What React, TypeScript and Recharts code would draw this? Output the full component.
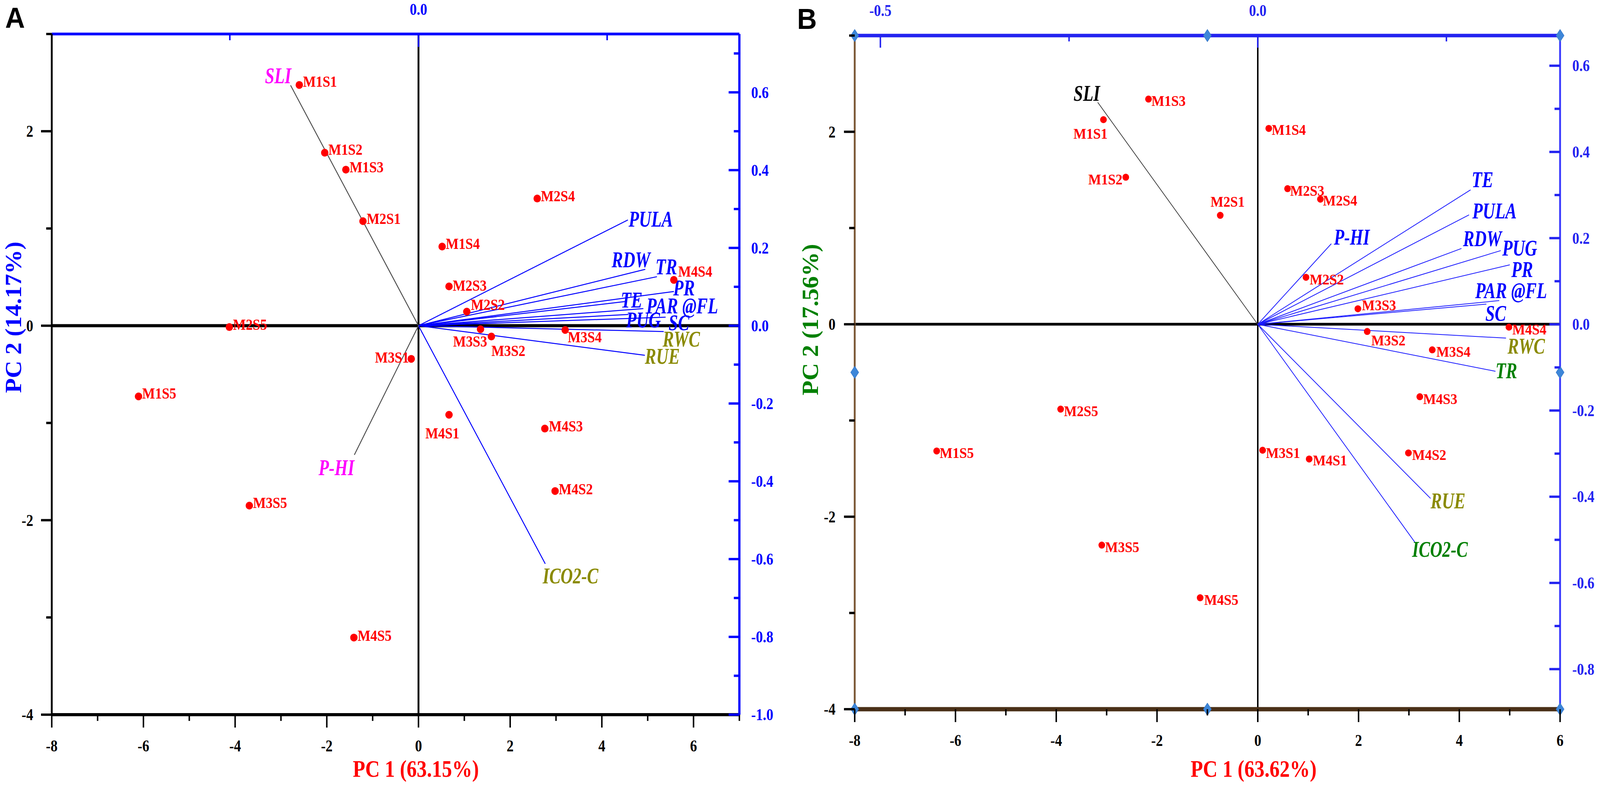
import React from 'react';
import { ScatterChart, Scatter, XAxis, YAxis, ReferenceLine, ReferenceDot } from 'recharts';

const SERIF = "'Liberation Serif', 'Times New Roman', Times, serif";
const SANS = "'Liberation Sans', Arial, Helvetica, sans-serif";

// ---------- DATA ----------
const SAMPLE_NAMES = ['M1S1', 'M1S2', 'M1S3', 'M1S4', 'M1S5', 'M2S1', 'M2S2', 'M2S3', 'M2S4', 'M2S5', 'M3S1', 'M3S2', 'M3S3', 'M3S4', 'M3S5', 'M4S1', 'M4S2', 'M4S3', 'M4S4', 'M4S5'];

// Panel A scores
const A_PC1 = [-2.6, -2.045, -1.584, 0.516, -6.107, -1.211, 1.054, 0.666, 2.59, -4.126, -0.158, 1.59, 1.353, 3.2, -3.69, 0.666, 2.98, 2.756, 5.57, -1.409];
const A_PC2 = [2.476, 1.779, 1.605, 0.814, -0.727, 1.075, 0.145, 0.404, 1.308, -0.014, -0.341, -0.111, -0.036, -0.044, -1.85, -0.916, -1.7, -1.058, 0.471, -3.207];

// Panel B scores
const B_PC1 = [-3.063, -2.62, -2.169, 0.218, -6.373, -0.745, 0.957, 0.591, 1.243, -3.913, 0.096, 2.172, 1.987, 3.463, -3.096, 1.02, 2.99, 3.216, 4.985, -1.144];
const B_PC2 = [2.126, 1.528, 2.34, 2.035, -1.317, 1.132, 0.488, 1.409, 1.3, -0.882, -1.309, -0.075, 0.161, -0.266, -2.295, -1.4, -1.337, -0.753, -0.03, -2.842];

// Panel A loadings
const A_TRAITS = ['SLI', 'PULA', 'RDW', 'TR', 'PR', 'TE', 'PAR @FL', 'PUG', 'SC', 'RWC', 'RUE', 'ICO2-C', 'P-HI'];
const A_LOAD1 = [-0.339, 0.555, 0.601, 0.632, 0.677, 0.547, 0.596, 0.557, 0.655, 0.65, 0.6, 0.336, -0.17];
const A_LOAD2 = [0.618, 0.272, 0.145, 0.126, 0.088, 0.062, 0.044, 0.029, 0.022, -0.015, -0.076, -0.612, -0.332];

// Panel B loadings
const B_TRAITS = ['SLI', 'TE', 'PULA', 'P-HI', 'RDW', 'PUG', 'PR', 'PAR @FL', 'SC', 'RWC', 'TR', 'RUE', 'ICO2-C'];
const B_LOAD1 = [-0.212, 0.282, 0.28, 0.0975, 0.27, 0.322, 0.334, 0.32, 0.303, 0.329, 0.315, 0.229, 0.208];
const B_LOAD2 = [0.515, 0.312, 0.254, 0.187, 0.176, 0.171, 0.138, 0.055, 0.047, -0.032, -0.109, -0.404, -0.505];

// Axis ticks
const A_X_TICKS = [-8, -7, -6, -5, -4, -3, -2, -1, 0, 1, 2, 3, 4, 5, 6, 7];
const A_Y_TICKS = [-4, -3, -2, -1, 0, 1, 2, 3];
const A_TOP_TICKS = [-0.5, 0, 0.5];
const A_RIGHT_TICKS = [-1.0, -0.9, -0.8, -0.7, -0.6, -0.5, -0.4, -0.3, -0.2, -0.1, 0, 0.1, 0.2, 0.3, 0.4, 0.5, 0.6, 0.7];
const B_X_TICKS = [-8, -7, -6, -5, -4, -3, -2, -1, 0, 1, 2, 3, 4, 5, 6];
const B_Y_TICKS = [-4, -3, -2, -1, 0, 1, 2, 3];
const B_TOP_TICKS = [-0.5, -0.25, 0, 0.25];
const B_RIGHT_TICKS = [-0.8, -0.7, -0.6, -0.5, -0.4, -0.3, -0.2, -0.1, 0, 0.1, 0.2, 0.3, 0.4, 0.5, 0.6];

// Axis domains
const A_X_DOMAIN = [-8, 7];
const A_Y_DOMAIN = [-4, 3];
const A_TOP_DOMAIN = [-0.972, 0.8505];
const A_RIGHT_DOMAIN = [-1.0, 0.75];
const B_X_DOMAIN = [-8, 6];
const B_Y_DOMAIN = [-4, 3];
const B_TOP_DOMAIN = [-0.534, 0.4006];
const B_RIGHT_DOMAIN = [-0.893, 0.67];

// ---------- STYLE MAPS ----------
type Pos = [number, number, 'start' | 'middle' | 'end'];
const A_SAMPLE_POS: Record<string, Pos> = {
  M1S1: [10, 5, 'start'], M1S2: [10, 5, 'start'], M1S3: [10, 7, 'start'], M1S4: [10, 6, 'start'], M1S5: [10, 6, 'start'],
  M2S1: [10, 7, 'start'], M2S2: [11, -4, 'start'], M2S3: [10, 11, 'start'], M2S4: [10, 7, 'start'], M2S5: [10, 7, 'start'],
  M3S1: [-6, 10, 'end'], M3S2: [0, 50, 'start'], M3S3: [-28, 44, 'middle'], M3S4: [7, 31, 'start'], M3S5: [10, 6, 'start'],
  M4S1: [-18, 60, 'middle'], M4S2: [10, 8, 'start'], M4S3: [11, 7, 'start'], M4S4: [12, -8, 'start'], M4S5: [10, 8, 'start'],
};
const B_SAMPLE_POS: Record<string, Pos> = {
  M1S1: [-35, 49, 'middle'], M1S2: [-9, 18, 'end'], M1S3: [8, 17, 'start'], M1S4: [8, 16, 'start'], M1S5: [8, 18, 'start'],
  M2S1: [20, -22, 'middle'], M2S2: [10, 18, 'start'], M2S3: [7, 18, 'start'], M2S4: [7, 16, 'start'], M2S5: [9, 18, 'start'],
  M3S1: [9, 20, 'start'], M3S2: [11, 36, 'start'], M3S3: [11, 4, 'start'], M3S4: [11, 18, 'start'], M3S5: [9, 18, 'start'],
  M4S1: [10, 16, 'start'], M4S2: [10, 18, 'start'], M4S3: [9, 19, 'start'], M4S4: [9, 19, 'start'], M4S5: [11, 18, 'start'],
};
const A_VEC_POS: Record<string, Pos> = {
  'SLI': [2, -5, 'end'], 'PULA': [2, 17, 'start'], 'RDW': [-91, -5, 'start'], 'TR': [-4, -6, 'start'],
  'PR': [-2, 10, 'start'], 'TE': [-11, 15, 'start'], 'PAR @FL': [8, 12, 'start'], 'PUG': [-7, 33, 'start'],
  'SC': [8, 33, 'start'], 'RWC': [-3, 38, 'start'], 'RUE': [0, 22, 'start'], 'ICO2-C': [-7, 50, 'start'], 'P-HI': [0, 52, 'end'],
};
const B_VEC_POS: Record<string, Pos> = {
  'SLI': [6, -4, 'end'], 'TE': [3, -7, 'start'], 'PULA': [9, 9, 'start'], 'P-HI': [7, 2, 'start'],
  'RDW': [4, -6, 'start'], 'PUG': [4, 13, 'start'], 'PR': [4, 31, 'start'], 'PAR @FL': [-65, -6, 'start'],
  'SC': [-3, 43, 'start'], 'RWC': [4, 40, 'start'], 'TR': [0, 18, 'start'], 'RUE': [0, 25, 'start'], 'ICO2-C': [-7, 38, 'start'],
};
const OLIVE = '#8a8a00';
const A_VEC_COLOR: Record<string, string> = { 'SLI': '#ff00ff', 'P-HI': '#ff00ff', 'ICO2-C': OLIVE, 'RWC': OLIVE, 'RUE': OLIVE };
const A_VEC_LINE: Record<string, string> = { 'SLI': '#505050', 'P-HI': '#505050' };
const B_VEC_COLOR: Record<string, string> = { 'SLI': '#000000', 'RWC': OLIVE, 'RUE': OLIVE, 'TR': '#008000', 'ICO2-C': '#008000' };
const B_VEC_LINE: Record<string, string> = { 'SLI': '#404040' };

// ---------- TABLES ----------
const samplesA = SAMPLE_NAMES.map((n, i) => ({ name: n, x: A_PC1[i], y: A_PC2[i] }));
const samplesB = SAMPLE_NAMES.map((n, i) => ({ name: n, x: B_PC1[i], y: B_PC2[i] }));
const vecA = A_TRAITS.map((n, i) => ({ name: n, x: A_LOAD1[i], y: A_LOAD2[i] }));
const vecB = B_TRAITS.map((n, i) => ({ name: n, x: B_LOAD1[i], y: B_LOAD2[i] }));

// ---------- HELPERS ----------
function SText(props: any) {
  const { x, y, size, fill, anchor = 'start', sx = 1, italic = false, bold = true, rotate = 0, family = SERIF, children } = props;
  const tf = `translate(${x} ${y})${rotate ? ` rotate(${rotate})` : ''} scale(${sx} 1)`;
  return (
    <text transform={tf} x={0} y={0} fontFamily={family} fontSize={size} fontWeight={bold ? 700 : 400}
      fontStyle={italic ? 'italic' : 'normal'} fill={fill} textAnchor={anchor}>{children}</text>
  );
}

type TickCfg = {
  side: 'left' | 'right' | 'top' | 'bottom';
  color: string; labelColor: string;
  major: (v: number) => boolean; fmt: (v: number) => string;
  majorLen: number; minorLen: number; w: number; gap: number; size: number; sx: number;
};
function makeTick(c: TickCfg) {
  return (p: any) => {
    const v = Number(p.payload.value);
    const mj = c.major(v);
    const len = mj ? c.majorLen : c.minorLen;
    const x = Number(p.x), y = Number(p.y);
    const dy = c.size * 0.34;
    let line: any = null;
    let label: any = null;
    if (c.side === 'left') {
      line = <line x1={x - len} y1={y} x2={x} y2={y} stroke={c.color} strokeWidth={c.w} />;
      label = <SText x={x - c.gap} y={y + dy} size={c.size} fill={c.labelColor} anchor="end" sx={c.sx}>{c.fmt(v)}</SText>;
    } else if (c.side === 'right') {
      line = <line x1={x - len} y1={y} x2={x} y2={y} stroke={c.color} strokeWidth={c.w} />;
      label = <SText x={x + c.gap} y={y + dy} size={c.size} fill={c.labelColor} anchor="start" sx={c.sx}>{c.fmt(v)}</SText>;
    } else if (c.side === 'top') {
      line = <line x1={x} y1={y} x2={x} y2={y + len} stroke={c.color} strokeWidth={c.w} />;
      label = <SText x={x} y={y - c.gap} size={c.size} fill={c.labelColor} anchor="middle" sx={c.sx}>{c.fmt(v)}</SText>;
    } else {
      line = <line x1={x} y1={y} x2={x} y2={y + len} stroke={c.color} strokeWidth={c.w} />;
      label = <SText x={x} y={y + c.gap} size={c.size} fill={c.labelColor} anchor="middle" sx={c.sx}>{c.fmt(v)}</SText>;
    }
    return <g>{line}{mj ? label : null}</g>;
  };
}

const isEvenInt = (v: number) => Math.abs(Math.round(v)) % 2 === 0;
const isEvenTenth = (v: number) => Math.abs(Math.round(v * 10)) % 2 === 0;
const intFmt = (v: number) => String(Math.round(v));
const oneDec = (v: number) => (Math.abs(v) < 1e-9 ? '0.0' : v.toFixed(1));

function sampleShape(pos: Record<string, Pos>, r: number, size: number, sx: number) {
  return (p: any) => {
    const { cx, cy, payload } = p;
    const [dx, dy, anchor] = pos[payload.name] || [10, 8, 'start'];
    return (
      <g>
        <circle cx={cx} cy={cy} r={r} fill="#ff0000" />
        <SText x={cx + dx} y={cy + dy} size={size} fill="#ff0000" anchor={anchor} sx={sx}>{payload.name}</SText>
      </g>
    );
  };
}

function vecLabelShape(pos: Record<string, Pos>, colors: Record<string, string>) {
  return (p: any) => {
    const { cx, cy, payload } = p;
    const [dx, dy, anchor] = pos[payload.name] || [4, 10, 'start'];
    return (
      <SText x={cx + dx} y={cy + dy} size={56} fill={colors[payload.name] || '#0000ff'} anchor={anchor} sx={0.82} italic>
        {payload.name}
      </SText>
    );
  };
}

const diamond = (p: any) => {
  const { cx, cy } = p;
  return <path d={`M${cx} ${cy - 16} L${cx + 11} ${cy} L${cx} ${cy + 16} L${cx - 11} ${cy} Z`} fill="#3d86d8" stroke="#2a6cc0" strokeWidth={1} />;
};

// ---------- PANEL A ----------
function PanelA() {
  return (
    <ScatterChart width={2160} height={2009} margin={{ top: 0, right: 0, bottom: 0, left: 0 }}>
      <XAxis xAxisId="pc1" orientation="bottom" type="number" dataKey="x" domain={A_X_DOMAIN} ticks={A_X_TICKS}
        allowDataOverflow interval={0} height={180} tickSize={0} tickMargin={0} tickLine={false}
        axisLine={{ stroke: '#000', strokeWidth: 8 }}
        tick={makeTick({ side: 'bottom', color: '#000', labelColor: '#000', major: isEvenInt, fmt: intFmt, majorLen: 33, minorLen: 16, w: 4, gap: 94, size: 42, sx: 0.9 })}
        label={() => <SText x={1125} y={1988} size={62} fill="#ff0000" anchor="middle" sx={0.88}>PC 1 (63.15%)</SText>} />
      <XAxis xAxisId="top" orientation="top" type="number" dataKey="x" domain={A_TOP_DOMAIN} ticks={A_TOP_TICKS}
        allowDataOverflow interval={0} height={87} tickSize={0} tickMargin={0} tickLine={false}
        axisLine={{ stroke: '#0000ff', strokeWidth: 7 }}
        tick={makeTick({ side: 'top', color: '#0000ff', labelColor: '#0000ff', major: (v) => Math.abs(v) < 1e-9, fmt: oneDec, majorLen: 33, minorLen: 16, w: 4, gap: 49, size: 42, sx: 0.9 })} />
      <YAxis yAxisId="pc2" orientation="left" type="number" dataKey="y" domain={A_Y_DOMAIN} ticks={A_Y_TICKS}
        allowDataOverflow interval={0} width={140} tickSize={0} tickMargin={0} tickLine={false}
        axisLine={{ stroke: '#000', strokeWidth: 5 }}
        tick={makeTick({ side: 'left', color: '#000', labelColor: '#000', major: isEvenInt, fmt: intFmt, majorLen: 29, minorLen: 15, w: 6, gap: 50, size: 42, sx: 0.9 })}
        label={() => <SText x={57} y={812} size={62} fill="#0000ff" anchor="middle" rotate={-90}>PC 2 (14.17%)</SText>} />
      <YAxis yAxisId="right" orientation="right" type="number" dataKey="y" domain={A_RIGHT_DOMAIN} ticks={A_RIGHT_TICKS}
        allowDataOverflow interval={0} width={160} tickSize={0} tickMargin={0} tickLine={false}
        axisLine={{ stroke: '#0000ff', strokeWidth: 6 }}
        tick={makeTick({ side: 'right', color: '#0000ff', labelColor: '#0000ff', major: isEvenTenth, fmt: oneDec, majorLen: 29, minorLen: 15, w: 6, gap: 32, size: 42, sx: 0.9 })} />

      <ReferenceLine xAxisId="pc1" yAxisId="pc2" x={0} stroke="#000" strokeWidth={5} />
      <ReferenceLine xAxisId="pc1" yAxisId="pc2" y={0} stroke="#000" strokeWidth={8} />

      {vecA.map((v) => (
        <ReferenceLine key={v.name} xAxisId="top" yAxisId="right" ifOverflow="visible"
          segment={[{ x: 0, y: 0 }, { x: v.x, y: v.y }]}
          stroke={A_VEC_LINE[v.name] || '#0000ff'} strokeWidth={2.5} />
      ))}
      <Scatter xAxisId="top" yAxisId="right" data={vecA} isAnimationActive={false} shape={vecLabelShape(A_VEC_POS, A_VEC_COLOR)} />
      <Scatter xAxisId="pc1" yAxisId="pc2" data={samplesA} isAnimationActive={false} shape={sampleShape(A_SAMPLE_POS, 10, 40, 0.92)} />
    </ScatterChart>
  );
}

// ---------- PANEL B ----------
const B_LEFT = 2112;
function PanelB() {
  const handles: Array<[number, number]> = [[-8, 3], [-1, 3], [6, 3], [-8, -0.5], [6, -0.5], [-8, -4], [-1, -4], [6, -4]];
  return (
    <ScatterChart width={4328 - B_LEFT} height={2009} margin={{ top: 0, right: 0, bottom: 0, left: 0 }}>
      <XAxis xAxisId="pc1" orientation="bottom" type="number" dataKey="x" domain={B_X_DOMAIN} ticks={B_X_TICKS}
        allowDataOverflow interval={0} height={194} tickSize={0} tickMargin={0} tickLine={false}
        axisLine={{ stroke: '#4a3018', strokeWidth: 11 }}
        tick={makeTick({ side: 'bottom', color: '#000', labelColor: '#000', major: isEvenInt, fmt: intFmt, majorLen: 33, minorLen: 16, w: 4, gap: 94, size: 42, sx: 0.9 })}
        label={() => <SText x={3391 - B_LEFT} y={1988} size={62} fill="#ff0000" anchor="middle" sx={0.88}>PC 1 (63.62%)</SText>} />
      <XAxis xAxisId="top" orientation="top" type="number" dataKey="x" domain={B_TOP_DOMAIN} ticks={B_TOP_TICKS}
        allowDataOverflow interval={0} height={91} tickSize={0} tickMargin={0} tickLine={false}
        axisLine={{ stroke: '#2323f0', strokeWidth: 9 }}
        tick={makeTick({ side: 'top', color: '#2323f0', labelColor: '#2323f0', major: (v) => Math.abs(Math.round(v * 4)) % 2 === 0, fmt: oneDec, majorLen: 31, minorLen: 15, w: 4, gap: 50, size: 42, sx: 0.9 })} />
      <YAxis yAxisId="pc2" orientation="left" type="number" dataKey="y" domain={B_Y_DOMAIN} ticks={B_Y_TICKS}
        allowDataOverflow interval={0} width={2312 - B_LEFT} tickSize={0} tickMargin={0} tickLine={false}
        axisLine={{ stroke: '#7a5634', strokeWidth: 5 }}
        tick={makeTick({ side: 'left', color: '#000', labelColor: '#000', major: isEvenInt, fmt: intFmt, majorLen: 29, minorLen: 15, w: 6, gap: 52, size: 42, sx: 0.9 })}
        label={() => <SText x={2213 - B_LEFT} y={818} size={62} fill="#008000" anchor="middle" rotate={-90}>PC 2 (17.56%)</SText>} />
      <YAxis yAxisId="right" orientation="right" type="number" dataKey="y" domain={B_RIGHT_DOMAIN} ticks={B_RIGHT_TICKS}
        allowDataOverflow interval={0} width={108} tickSize={0} tickMargin={0} tickLine={false}
        axisLine={{ stroke: '#3a3aff', strokeWidth: 5 }}
        tick={makeTick({ side: 'right', color: '#2323f0', labelColor: '#2323f0', major: isEvenTenth, fmt: oneDec, majorLen: 29, minorLen: 15, w: 6, gap: 33, size: 42, sx: 0.9 })} />

      <ReferenceLine xAxisId="pc1" yAxisId="pc2" y={3} stroke="#c4c4ff" strokeWidth={2.5} />
      <ReferenceLine xAxisId="pc1" yAxisId="pc2" y={-4} stroke="#e39a3c" strokeWidth={4} />
      <ReferenceLine xAxisId="pc1" yAxisId="pc2" x={0} stroke="#000" strokeWidth={4} />
      <ReferenceLine xAxisId="pc1" yAxisId="pc2" y={0} stroke="#000" strokeWidth={7} />

      {vecB.map((v) => (
        <ReferenceLine key={v.name} xAxisId="top" yAxisId="right" ifOverflow="visible"
          segment={[{ x: 0, y: 0 }, { x: v.x, y: v.y }]}
          stroke={B_VEC_LINE[v.name] || '#1a1aff'} strokeWidth={2} />
      ))}
      <Scatter xAxisId="top" yAxisId="right" data={vecB} isAnimationActive={false} shape={vecLabelShape(B_VEC_POS, B_VEC_COLOR)} />
      <Scatter xAxisId="pc1" yAxisId="pc2" data={samplesB} isAnimationActive={false} shape={sampleShape(B_SAMPLE_POS, 9, 37, 1.0)} />

      {handles.map(([hx, hy], i) => (
        <ReferenceDot key={i} xAxisId="pc1" yAxisId="pc2" x={hx} y={hy} r={10} ifOverflow="visible" shape={diamond} />
      ))}
    </ScatterChart>
  );
}

const FIG_W = 4328;
const FIG_H = 2009;

export default function App() {
  const vw = (typeof window !== 'undefined' && (document.documentElement.clientWidth || window.innerWidth)) || FIG_W;
  const vh = (typeof window !== 'undefined' && (window.innerHeight || document.documentElement.clientHeight)) || FIG_H;
  const kx = Math.min(1, vw / FIG_W);
  const ky = Math.min(1, vh / FIG_H);
  return (
    <div style={{ position: 'absolute', left: 0, top: 0, width: FIG_W * kx, height: FIG_H * ky, overflow: 'hidden', background: '#fff' }}>
      <div style={{ position: 'absolute', left: 0, top: 0, width: FIG_W, height: FIG_H, transform: `scale(${kx}, ${ky})`, transformOrigin: '0 0' }}>
        <div style={{ position: 'absolute', left: 0, top: 0 }}><PanelA /></div>
        <div style={{ position: 'absolute', left: B_LEFT, top: 0 }}><PanelB /></div>
        <svg width={FIG_W} height={FIG_H} style={{ position: 'absolute', left: 0, top: 0, pointerEvents: 'none' }}>
          <text x={14} y={71} fontFamily={SANS} fontWeight={700} fontSize={74} fill="#000">A</text>
          <text x={2156} y={74} fontFamily={SANS} fontWeight={700} fontSize={74} fill="#000">B</text>
        </svg>
      </div>
    </div>
  );
}
